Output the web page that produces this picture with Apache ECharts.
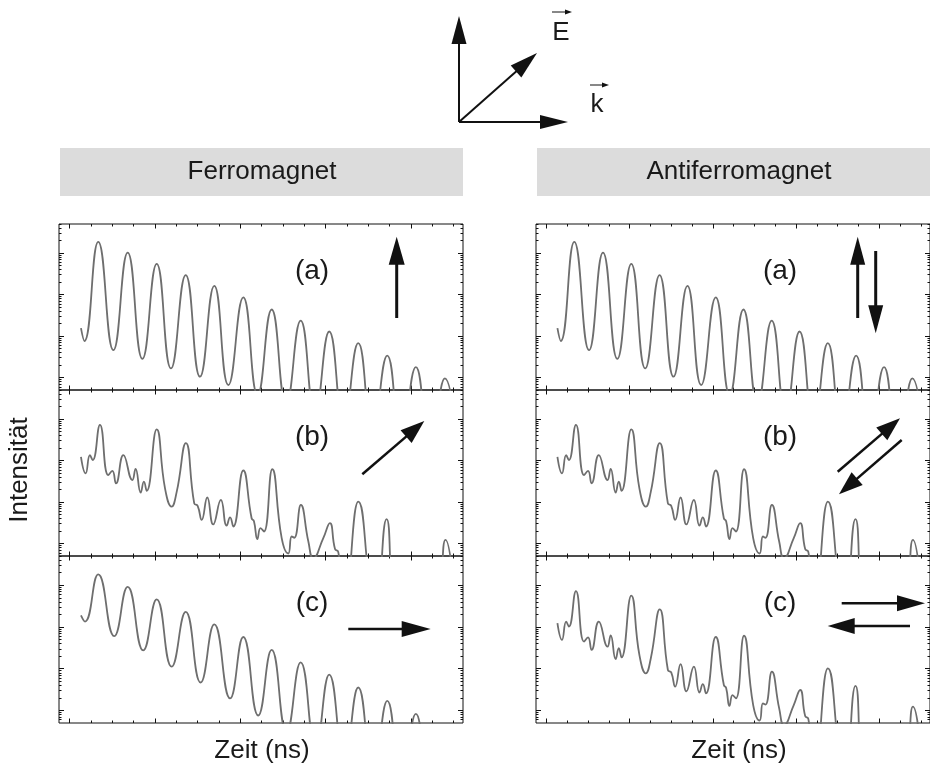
<!DOCTYPE html>
<html>
<head>
<meta charset="utf-8">
<script src="https://cdn.jsdelivr.net/npm/echarts@6/dist/echarts.min.js"></script>
<style>
  html, body { margin: 0; padding: 0; background: #fff; }
  #chart { width: 930px; height: 772px; }
</style>
</head>
<body>
<div id="chart"></div>
<script>
// ---- axes ----
const timeRange = [15, 204.4];                       // ns
const timeMajorTicks = [20, 60, 100, 140, 180];
const timeMinorTicks = [30, 40, 50, 70, 80, 90, 110, 120, 130, 150, 160, 170, 190, 200];
const logRange = [-0.3, 3.7];                        // log10 of counts
const decadeTicks = [0, 1, 2, 3];
const mantissas = [2, 3, 4, 5, 6, 7, 8, 9];

const panelTitles = ['Ferromagnet', 'Antiferromagnet'];
const panelLetters = ['(a)', '(b)', '(c)'];
const xAxisName = 'Zeit (ns)';
const yAxisName = 'Intensität';

// ---- time spectra: time (ns) and log10 intensity ----
// pure quantum beat (field along E)
const beatA_t = [25.3, 26.9, 33.4, 40.5, 47.2, 54.1, 60.8, 67.5, 74.4, 81.1, 87.8, 94.4, 101.4,
  108.1, 114.7, 121.5, 128.3, 135.0, 141.7, 148.5, 155.3, 162.0, 168.9, 175.5, 182.3, 189.0,
  195.9, 202.5];
const beatA_log = [1.19, 0.88, 3.27, 0.66, 3.01, 0.45, 2.74, 0.22, 2.47, 0.02, 2.21, -0.18, 1.93,
  -0.42, 1.64, -0.64, 1.37, -0.86, 1.11, -1.08, 0.83, -1.30, 0.53, -1.52, 0.25, -1.74,
  -0.02, -1.96];

// multi-frequency beat (field at 45 degrees / antiparallel)
const beatB_t = [25.3, 27.5, 29.5, 30.8, 34.2, 38.1, 40.0, 41.7, 45.2, 49.4, 50.9, 53.3, 54.8, 56.1,
  60.8, 64.7, 67.8, 70.2, 74.5, 78.4, 80.0, 81.9, 84.5, 87.3, 90.9, 93.6, 95.2, 96.7, 101.4, 105.3,
  106.4, 108.0, 109.5, 111.1, 115.0, 119.4, 122.5, 124.1, 125.3, 128.4, 131.9, 134.2, 138.9, 142.0,
  144.4, 145.9, 149.0, 155.3, 161.5, 163.5, 168.6, 174.0, 183.0, 191.0, 196.2, 201.0];
const beatB_log = [2.09, 1.69, 2.13, 2.01, 2.86, 1.65, 1.75, 1.45, 2.13, 1.53, 1.80, 1.23, 1.49, 1.27,
  2.75, 1.33, 0.89, 1.25, 2.42, 0.97, 0.91, 0.57, 1.11, 0.46, 1.05, 0.43, 0.63, 0.41, 1.76, 0.61,
  0.54, 0.11, 0.37, 0.29, 1.79, 0.13, -0.24, 0.17, 0.14, 0.93, 0.05, -0.36, 0.13, 0.49,
  -0.13, -0.20, -1.30, 1.01, -1.30, -1.50, 0.59, -1.50, -1.40, -1.60, 0.09, -1.60];

// quantum beat with reduced contrast (field along k)
const beatC_t = [25.3, 27.2, 33.4, 40.9, 47.2, 54.5, 60.8, 67.8, 74.4, 81.4, 87.8, 95.2, 101.4,
  108.4, 114.7, 121.7, 128.3, 135.3, 141.7, 148.8, 155.3, 162.3, 168.9, 175.6, 182.3, 189.2,
  195.9, 202.0];
const beatC_log = [2.28, 2.13, 3.26, 1.78, 2.96, 1.44, 2.66, 1.05, 2.36, 0.67, 2.06, 0.29, 1.76,
  -0.12, 1.45, -0.52, 1.15, -0.86, 0.86, -1.20, 0.55, -1.54, 0.23, -1.88, -0.08, -2.2,
  -0.40, -2.5];

// which spectrum goes in which panel: [column][row]
const panelSpectra = [
  [[beatA_t, beatA_log], [beatB_t, beatB_log], [beatC_t, beatC_log]],
  [[beatA_t, beatA_log], [beatB_t, beatB_log], [beatB_t, beatB_log]]
];

// ---- layout ----
const colLeft = [59, 536];
const panelWidth = 404;
const rowTop = [224, 390, 556];
const rowHeight = [166, 166, 167];
const FONT = '"Liberation Sans", Arial, sans-serif';

const yMinorTicks = [];
for (let d = -1; d <= 3; d++) {
  mantissas.forEach(m => {
    const v = d + Math.log10(m);
    if (v > logRange[0] && v < logRange[1]) yMinorTicks.push(v);
  });
}

const grids = [], xAxes = [], yAxes = [], series = [];
const tick = (values, len) => ({
  show: true, inside: true, length: len, customValues: values,
  lineStyle: { color: '#111', width: 1 }
});
const hiddenBits = {
  axisLine: { show: false, onZero: false },
  axisLabel: { show: false },
  splitLine: { show: false }
};

for (let c = 0; c < 2; c++) {
  for (let r = 0; r < 3; r++) {
    const g = grids.length;
    grids.push({
      left: colLeft[c], top: rowTop[r], width: panelWidth, height: rowHeight[r],
      show: true, borderColor: '#111', borderWidth: 1, backgroundColor: 'transparent'
    });
    const xi = xAxes.length, yi = yAxes.length;
    [['bottom', timeMajorTicks, 4.5], ['bottom', timeMinorTicks, 2.5],
     ['top', timeMajorTicks, 4.5], ['top', timeMinorTicks, 2.5]].forEach(([pos, vals, len]) => {
      xAxes.push(Object.assign({ gridIndex: g, type: 'value', position: pos,
        min: timeRange[0], max: timeRange[1], axisTick: tick(vals, len) }, hiddenBits));
    });
    [['left', decadeTicks, 5], ['left', yMinorTicks, 2.5],
     ['right', decadeTicks, 5], ['right', yMinorTicks, 2.5]].forEach(([pos, vals, len]) => {
      yAxes.push(Object.assign({ gridIndex: g, type: 'value', position: pos,
        min: logRange[0], max: logRange[1], axisTick: tick(vals, len) }, hiddenBits));
    });
    const [ts, ls] = panelSpectra[c][r];
    series.push({
      type: 'line', xAxisIndex: xi, yAxisIndex: yi,
      data: ts.map((t, i) => [t, ls[i]]),
      showSymbol: false, symbol: 'none', smooth: 0.5, clip: true,
      lineStyle: { color: '#6e6e6e', width: 1.8 },
      silent: true, animation: false
    });
  }
}

// ---- decorations: arrows and texts ----
function arrow(x1, y1, x2, y2, headLen, headW, lw) {
  const dx = x2 - x1, dy = y2 - y1, len = Math.hypot(dx, dy);
  const ux = dx / len, uy = dy / len;
  const bx = x2 - ux * headLen, by = y2 - uy * headLen;
  const px = -uy * headW / 2, py = ux * headW / 2;
  return [
    { type: 'line', shape: { x1: x1, y1: y1, x2: bx + ux * 2, y2: by + uy * 2 },
      style: { stroke: '#111', lineWidth: lw } },
    { type: 'polygon', shape: { points: [[x2, y2], [bx + px, by + py], [bx - px, by - py]] },
      style: { fill: '#111' } }
  ];
}
function label(text, x, y, size, rot) {
  return { type: 'text', x: x, y: y, rotation: rot || 0,
    style: { text: text, font: size + 'px ' + FONT, fill: '#1a1a1a',
      align: 'center', verticalAlign: 'middle', textAlign: 'center', textVerticalAlign: 'middle' } };
}

const graphics = [];
// coordinate sketch: E and k
graphics.push(...arrow(459, 122, 459, 16, 28, 15, 2));
graphics.push(...arrow(459, 122, 568, 122, 28, 14, 2));
graphics.push(...arrow(459, 122, 537, 53, 28, 16, 2));
graphics.push(label('E', 561, 33, 26));
graphics.push(...arrow(552, 12, 572, 12, 7, 5, 1));
graphics.push(label('k', 597, 105, 26));
graphics.push(...arrow(590, 85, 609, 85, 7, 5, 1));

// column headers
[0, 1].forEach(c => {
  graphics.push({ type: 'rect', shape: { x: colLeft[c] + 1, y: 148, width: panelWidth - 1, height: 48 },
    style: { fill: '#dcdcdc' } });
  graphics.push(label(panelTitles[c], colLeft[c] + 203, 172, 26));
  graphics.push(label(xAxisName, colLeft[c] + 203, 751, 26));
});
graphics.push(label(yAxisName, 20, 470, 26, Math.PI / 2));

// panel letters
const letterX = [312, 780];
[0, 1].forEach(c => {
  panelLetters.forEach((t, r) => graphics.push(label(t, letterX[c], rowTop[r] + 47, 28)));
});

// magnetisation directions
graphics.push(...arrow(396.7, 318, 396.7, 236.7, 28, 16, 3));
graphics.push(...arrow(362.3, 474.3, 424.3, 421, 24, 17, 2.5));
graphics.push(...arrow(348.3, 629, 430.7, 629, 29, 16, 2.5));
graphics.push(...arrow(857.7, 318, 857.7, 236.7, 28, 15, 3));
graphics.push(...arrow(875.7, 251, 875.7, 333.3, 28, 15, 3));
graphics.push(...arrow(837.7, 471.7, 900, 418.3, 24, 17, 2.5));
graphics.push(...arrow(901.7, 440, 839, 494.3, 24, 17, 2.5));
graphics.push(...arrow(841.7, 603.3, 925, 603.3, 28, 16, 2.5));
graphics.push(...arrow(910, 626, 827.7, 626, 27, 16, 2.5));

const chart = echarts.init(document.getElementById('chart'), null, { renderer: 'canvas' });
chart.setOption({
  animation: false,
  backgroundColor: '#fff',
  grid: grids,
  xAxis: xAxes,
  yAxis: yAxes,
  series: series,
  graphic: { elements: graphics }
});
</script>
</body>
</html>
